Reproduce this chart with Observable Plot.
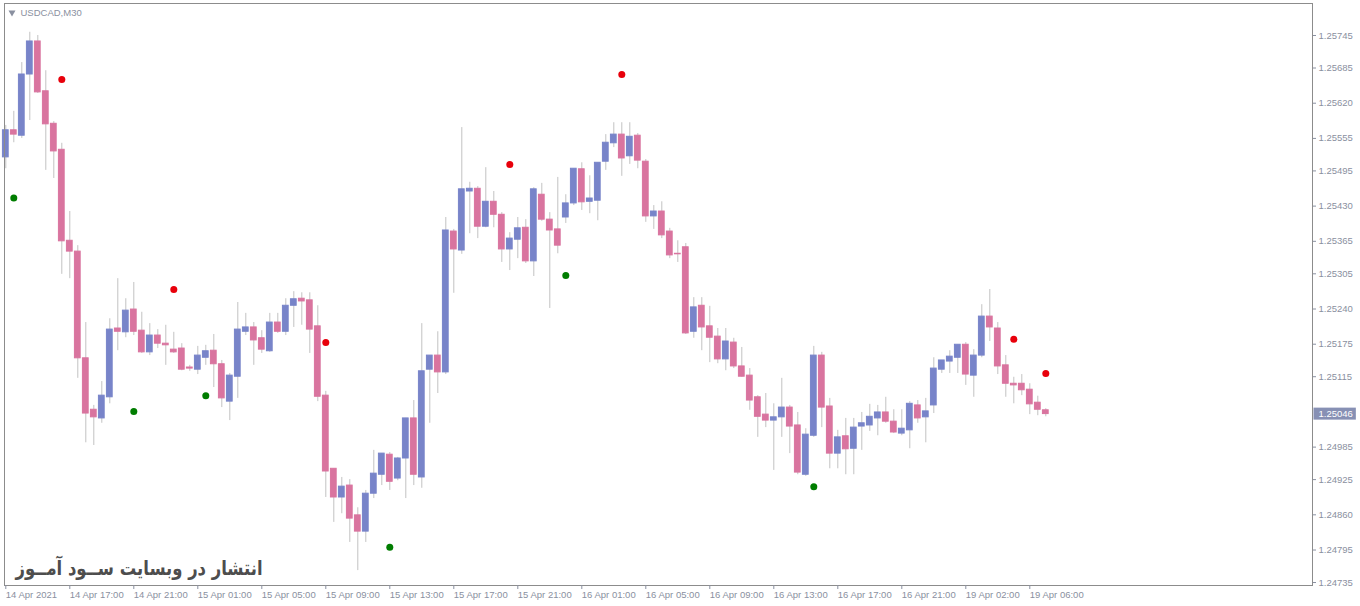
<!DOCTYPE html>
<html>
<head>
<meta charset="utf-8">
<script src="https://cdn.jsdelivr.net/npm/d3@7"></script>
<script src="https://cdn.jsdelivr.net/npm/@observablehq/plot@0.6"></script>
<style>
  html, body { margin: 0; padding: 0; background: #fff; }
  #chart { width: 1360px; height: 606px; }
</style>
</head>
<body>
<div id="chart"></div>
<script>
// USDCAD M30 bars (oldest first)
const open = [
  1.25520, 1.25570, 1.25560, 1.25673, 1.25734, 1.25642, 1.25582, 1.25534, 1.25366, 1.25346,
  1.25149, 1.25054, 1.25038, 1.25077, 1.25204, 1.25197, 1.25239, 1.25200, 1.25160, 1.25191,
  1.25176, 1.25165, 1.25167, 1.25132, 1.25128, 1.25150, 1.25163, 1.25138, 1.25069, 1.25115,
  1.25198, 1.25206, 1.25186, 1.25162, 1.25215, 1.25198, 1.25246, 1.25259, 1.25256, 1.25208,
  1.25080, 1.24945, 1.24892, 1.24914, 1.24859, 1.24829, 1.24899, 1.24934, 1.24971, 1.24927,
  1.24964, 1.25038, 1.24929, 1.25128, 1.25154, 1.25123, 1.25383, 1.25348, 1.25457, 1.25462,
  1.25392, 1.25438, 1.25414, 1.25350, 1.25368, 1.25390, 1.25328, 1.25451, 1.25405, 1.25387,
  1.25409, 1.25435, 1.25498, 1.25438, 1.25440, 1.25512, 1.25546, 1.25562, 1.25522, 1.25560,
  1.25512, 1.25411, 1.25420, 1.25383, 1.25342, 1.25354, 1.25198, 1.25246, 1.25208, 1.25189,
  1.25147, 1.25178, 1.25134, 1.25117, 1.25077, 1.25045, 1.25034, 1.25040, 1.25058, 1.25025,
  1.24934, 1.25006, 1.25154, 1.25060, 1.24973, 1.25005, 1.24982, 1.25023, 1.25025, 1.25038,
  1.25049, 1.25032, 1.25010, 1.25016, 1.25062, 1.25040, 1.25062, 1.25128, 1.25143, 1.25150,
  1.25174, 1.25117, 1.25154, 1.25226, 1.25204, 1.25136, 1.25102, 1.25102, 1.25091, 1.25067,
  1.25053
];
const high = [
  1.25579, 1.25605, 1.25695, 1.25751, 1.25745, 1.25680, 1.25586, 1.25546, 1.25420, 1.25357,
  1.25215, 1.25062, 1.25106, 1.25222, 1.25296, 1.25259, 1.25289, 1.25234, 1.25213, 1.25202,
  1.25210, 1.25197, 1.25176, 1.25136, 1.25171, 1.25173, 1.25193, 1.25145, 1.25121, 1.25252,
  1.25232, 1.25215, 1.25200, 1.25232, 1.25232, 1.25259, 1.25272, 1.25270, 1.25270, 1.25246,
  1.25088, 1.24945, 1.24929, 1.24925, 1.24873, 1.24905, 1.24979, 1.24973, 1.24975, 1.24966,
  1.25038, 1.25071, 1.25213, 1.25154, 1.25198, 1.25409, 1.25387, 1.25575, 1.25474, 1.25466,
  1.25501, 1.25457, 1.25418, 1.25381, 1.25409, 1.25405, 1.25464, 1.25472, 1.25418, 1.25483,
  1.25451, 1.25499, 1.25510, 1.25486, 1.25510, 1.25562, 1.25584, 1.25584, 1.25584, 1.25564,
  1.25516, 1.25431, 1.25438, 1.25389, 1.25366, 1.25361, 1.25261, 1.25261, 1.25245, 1.25204,
  1.25204, 1.25186, 1.25169, 1.25130, 1.25080, 1.25084, 1.25065, 1.25112, 1.25062, 1.25049,
  1.25019, 1.25171, 1.25160, 1.25075, 1.25016, 1.25038, 1.25038, 1.25049, 1.25064, 1.25062,
  1.25077, 1.25054, 1.25054, 1.25069, 1.25071, 1.25075, 1.25150, 1.25145, 1.25163, 1.25174,
  1.25178, 1.25165, 1.25248, 1.25276, 1.25215, 1.25154, 1.25114, 1.25119, 1.25102, 1.25079,
  1.25056
];
const low = [
  1.25499, 1.25547, 1.25555, 1.25588, 1.25638, 1.25496, 1.25481, 1.25304, 1.25296, 1.25112,
  1.24993, 1.24988, 1.25029, 1.25065, 1.25163, 1.25187, 1.25191, 1.25158, 1.25154, 1.25167,
  1.25136, 1.25158, 1.25126, 1.25125, 1.25119, 1.25136, 1.25095, 1.25058, 1.25034, 1.25075,
  1.25191, 1.25136, 1.25158, 1.25160, 1.25195, 1.25191, 1.25206, 1.25210, 1.25158, 1.25069,
  1.24892, 1.24846, 1.24862, 1.24809, 1.24757, 1.24809, 1.24890, 1.24914, 1.24905, 1.24923,
  1.24890, 1.24914, 1.24909, 1.25029, 1.25084, 1.25119, 1.25269, 1.25341, 1.25379, 1.25370,
  1.25390, 1.25390, 1.25326, 1.25311, 1.25333, 1.25324, 1.25300, 1.25402, 1.25241, 1.25342,
  1.25398, 1.25431, 1.25422, 1.25416, 1.25403, 1.25496, 1.25538, 1.25485, 1.25507, 1.25499,
  1.25400, 1.25387, 1.25370, 1.25333, 1.25326, 1.25193, 1.25186, 1.25163, 1.25141, 1.25139,
  1.25126, 1.25130, 1.25114, 1.25053, 1.25003, 1.25021, 1.24942, 1.25003, 1.24973, 1.24934,
  1.24931, 1.25003, 1.25021, 1.24945, 1.24945, 1.24934, 1.24934, 1.24979, 1.25014, 1.25006,
  1.25029, 1.25010, 1.25006, 1.24982, 1.25029, 1.24993, 1.25047, 1.25121, 1.25121, 1.25121,
  1.25099, 1.25077, 1.25150, 1.25180, 1.25119, 1.25077, 1.25065, 1.25080, 1.25045, 1.25043,
  1.25041
];
const close = [
  1.25570, 1.25562, 1.25673, 1.25734, 1.25640, 1.25581, 1.25531, 1.25365, 1.25346, 1.25149,
  1.25047, 1.25040, 1.25080, 1.25202, 1.25198, 1.25237, 1.25198, 1.25160, 1.25191, 1.25176,
  1.25173, 1.25160, 1.25128, 1.25130, 1.25154, 1.25162, 1.25138, 1.25075, 1.25117, 1.25202,
  1.25206, 1.25182, 1.25165, 1.25215, 1.25198, 1.25246, 1.25258, 1.25254, 1.25202, 1.25078,
  1.24940, 1.24892, 1.24912, 1.24853, 1.24829, 1.24899, 1.24936, 1.24973, 1.24921, 1.24964,
  1.25038, 1.24934, 1.25125, 1.25154, 1.25123, 1.25385, 1.25350, 1.25461, 1.25462, 1.25392,
  1.25438, 1.25414, 1.25350, 1.25370, 1.25389, 1.25328, 1.25461, 1.25405, 1.25385, 1.25357,
  1.25435, 1.25499, 1.25437, 1.25444, 1.25510, 1.25547, 1.25562, 1.25518, 1.25558, 1.25514,
  1.25411, 1.25420, 1.25376, 1.25339, 1.25341, 1.25195, 1.25243, 1.25206, 1.25187, 1.25147,
  1.25180, 1.25134, 1.25115, 1.25071, 1.25041, 1.25034, 1.25040, 1.25058, 1.25023, 1.24938,
  1.25008, 1.25154, 1.25058, 1.24973, 1.25003, 1.24981, 1.25021, 1.25029, 1.25041, 1.25049,
  1.25032, 1.25012, 1.25019, 1.25065, 1.25038, 1.25051, 1.25130, 1.25145, 1.25152, 1.25174,
  1.25119, 1.25154, 1.25226, 1.25206, 1.25134, 1.25102, 1.25099, 1.25090, 1.25064, 1.25054,
  1.25046
];

// indicator dots (bar index, price)
const upIdx = [7, 21, 40, 63, 77, 126, 130];
const upVal = [1.25664, 1.25276, 1.25178, 1.25507, 1.25673, 1.25184, 1.25121];
const downIdx = [1, 16, 25, 48, 70, 101];
const downVal = [1.25445, 1.25051, 1.25080, 1.24800, 1.25302, 1.24912];

// axis labels
const yTicks = [1.25745, 1.25685, 1.25620, 1.25555, 1.25495, 1.25430, 1.25365, 1.25305,
  1.25240, 1.25175, 1.25115, 1.24985, 1.24925, 1.24860, 1.24795, 1.24735];
const xTickIdx = [0, 8, 16, 24, 32, 40, 48, 56, 64, 72, 80, 88, 96, 104, 112, 120, 128];
const xTickLabels = ["14 Apr 2021", "14 Apr 17:00", "14 Apr 21:00", "15 Apr 01:00", "15 Apr 05:00",
  "15 Apr 09:00", "15 Apr 13:00", "15 Apr 17:00", "15 Apr 21:00", "16 Apr 01:00", "16 Apr 05:00",
  "16 Apr 09:00", "16 Apr 13:00", "16 Apr 17:00", "16 Apr 21:00", "19 Apr 02:00", "19 Apr 06:00"];

const symbolName = "USDCAD,M30";
const watermark = "انتشار در وبسایت ســود آمــوز";

const bull = "#7884c9";
const bear = "#d9749f";
const axisGray = "#8a90a0";

const candles = open.map((o, i) => ({i, open: o, high: high[i], low: low[i], close: close[i]}));
const upDots = upIdx.map((i, j) => ({i, v: upVal[j]}));
const downDots = downIdx.map((i, j) => ({i, v: downVal[j]}));
const bodyColor = (d) => (d.close >= d.open ? bull : bear);

const chart = Plot.plot({
  width: 1360,
  height: 606,
  marginLeft: 4,
  marginRight: 48,
  marginTop: 3,
  marginBottom: 21,
  x: {type: "linear", domain: [-0.1625, 163.3375], axis: null},
  y: {domain: [1.247295, 1.258041], axis: null},
  style: {
    background: "#fff",
    color: axisGray,
    fontFamily: "'Liberation Sans', Arial, sans-serif",
    fontSize: "9.5px",
  },
  marks: [
    // wicks then bodies
    Plot.ruleX(candles, {x: "i", y1: "low", y2: "high", stroke: "#c2c2c2", strokeWidth: 1}),
    Plot.rect(candles, {
      x1: (d) => d.i - 0.36,
      x2: (d) => d.i + 0.36,
      y1: "open",
      y2: "close",
      fill: bodyColor,
      stroke: bodyColor,
      strokeWidth: 1,
    }),
    Plot.dot(upDots, {x: "i", y: "v", r: 3.5, fill: "#e8000b", stroke: "none"}),
    Plot.dot(downDots, {x: "i", y: "v", r: 3.5, fill: "#007d00", stroke: "none"}),
    Plot.frame({stroke: "#8c8c8c"}),
    Plot.axisY({
      anchor: "right",
      ticks: yTicks,
      tickFormat: d3.format(".5f"),
      tickSize: 3,
      tickPadding: 3,
      label: null,
    }),
    Plot.axisX({
      anchor: "bottom",
      ticks: xTickIdx,
      tickFormat: (d) => xTickLabels[xTickIdx.indexOf(d)],
      tickSize: 4,
      tickPadding: 2,
      textAnchor: "start",
      label: null,
    }),
    // symbol caption top-left
    Plot.dot([symbolName], {frameAnchor: "top-left", dx: 7.5, dy: 9, symbol: "triangle", r: 2.6, rotate: 180, fill: axisGray, stroke: "none"}),
    Plot.text([symbolName], {frameAnchor: "top-left", dx: 16, dy: 9, lineAnchor: "middle", textAnchor: "start", fill: axisGray}),
    // watermark
    Plot.text([watermark], {
      frameAnchor: "bottom-left",
      dx: 258,
      dy: -17,
      lineAnchor: "middle",
      textAnchor: "end",
      fontSize: 20,
      fontWeight: "bold",
      fontFamily: "'DejaVu Sans', sans-serif",
      fill: "#4d4d4d",
    }),
    // current price tag
    Plot.text([close[close.length - 1]], {
      y: (d) => d,
      text: (d) => d3.format(".5f")(d),
      frameAnchor: "right",
      dx: 6,
      textAnchor: "start",
      lineAnchor: "middle",
      fill: "white",
    }),
  ],
});

d3.select('#chart').append(() => chart);

// squeeze the watermark to the width it has in the terminal screenshot
d3.select(chart).selectAll('g[aria-label="text"][fill="#4d4d4d"] text')
  .attr('textLength', 247)
  .attr('lengthAdjust', 'spacingAndGlyphs');

// background box behind the current price text
d3.select(chart).selectAll('g[aria-label="text"][fill="white"] text').each(function () {
  const b = this.getBBox();
  d3.select(this.parentNode)
    .insert('rect', 'text')
    .attr('transform', this.getAttribute('transform'))
    .attr('x', b.x - 5)
    .attr('y', b.y - 0.5)
    .attr('width', b.width + 8)
    .attr('height', b.height + 1)
    .attr('fill', '#8790b4');
});
</script>
</body>
</html>
